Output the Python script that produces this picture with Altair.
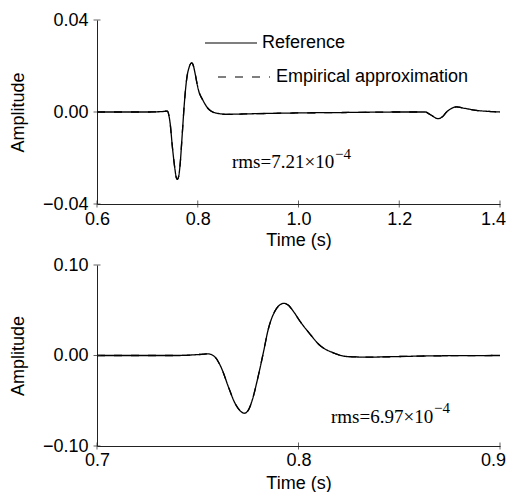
import altair as alt
import pandas as pd

# ---- data ----
series_names = ["Reference", "Empirical approximation"]

top_t = [0.60, 0.70, 0.730, 0.7395, 0.745, 0.750, 0.7548, 0.757, 0.7594, 0.762,
         0.7647, 0.769, 0.773, 0.778, 0.783, 0.788, 0.7915, 0.7944, 0.801, 0.811,
         0.821, 0.834, 0.857, 0.90, 1.00, 1.10, 1.20, 1.251, 1.262, 1.277,
         1.285, 1.294, 1.304, 1.3137, 1.33, 1.353, 1.375, 1.40]
top_ref = [0.0, 0.0, 0.0002, 0.0004, -0.0046, -0.016, -0.025, -0.0282, -0.0293, -0.0281,
           -0.0235, -0.0104, 0.0026, 0.0143, 0.0195, 0.0214, 0.0200, 0.0171, 0.0099, 0.0048,
           0.0014, -0.0003, -0.0010, -0.0008, -0.0004, -0.0002, 0.0, 0.0, -0.0012, -0.0029,
           -0.0022, 0.0, 0.0016, 0.0022, 0.0016, 0.0007, 0.0003, 0.0]
top_emp = [0.0, 0.0, 0.0002, 0.0004, -0.0046, -0.016, -0.025, -0.0282, -0.0293, -0.0281,
           -0.0235, -0.0104, 0.0026, 0.0143, 0.0195, 0.0214, 0.0200, 0.0171, 0.0099, 0.0048,
           0.0014, -0.0003, -0.0010, -0.0008, -0.0004, -0.0002, 0.0, 0.0, -0.0012, -0.0029,
           -0.0022, 0.0, 0.0016, 0.0022, 0.0016, 0.0007, 0.0003, 0.0]

bot_t = [0.70, 0.74, 0.750, 0.7553, 0.7586, 0.7619, 0.7652, 0.7685, 0.771, 0.7731,
         0.7752, 0.7768, 0.7801, 0.7826, 0.785, 0.7883, 0.7905, 0.7928, 0.795, 0.7974,
         0.8007, 0.8057, 0.8107, 0.8173, 0.8239, 0.8338, 0.8504, 0.867, 0.90]
bot_ref = [0.0, 0.0, 0.0010, 0.0018, -0.0018, -0.0146, -0.0346, -0.0528, -0.0610, -0.0638,
           -0.0600, -0.0510, -0.0219, 0.0036, 0.0290, 0.0490, 0.0555, 0.0576, 0.0555, 0.0490,
           0.0380, 0.0237, 0.0110, 0.0030, -0.0011, -0.0018, -0.0011, -0.0004, 0.0]
bot_emp = [0.0, 0.0, 0.0010, 0.0018, -0.0018, -0.0146, -0.0346, -0.0528, -0.0610, -0.0638,
           -0.0600, -0.0510, -0.0219, 0.0036, 0.0290, 0.0490, 0.0555, 0.0576, 0.0555, 0.0490,
           0.0380, 0.0237, 0.0110, 0.0030, -0.0011, -0.0018, -0.0011, -0.0004, 0.0]

top_xticks = [0.6, 0.8, 1.0, 1.2, 1.4]
top_yticks = [-0.04, 0.0, 0.04]
bot_xticks = [0.7, 0.8, 0.9]
bot_yticks = [-0.10, 0.0, 0.10]

top_rms = ["rms=7.21\u00d710", "\u22124"]
bot_rms = ["rms=6.97\u00d710", "\u22124"]

SANS = "Liberation Sans"
SERIF = "Liberation Serif"
INK = "#222"


def frame(t, ref, emp):
    rows = []
    for name, vals in zip(series_names, [ref, emp]):
        for i, (a, b) in enumerate(zip(t, vals)):
            rows.append({"t": a, "amp": b, "series": name, "order": i})
    return pd.DataFrame(rows)


def panel(df, xdom, ydom, xticks, yticks, rms, rms_pos, h, legend, lab_pad, title_pad):
    xs = alt.Scale(domain=xdom, nice=False, zero=False)
    ys = alt.Scale(domain=ydom, nice=False, zero=False)
    last = xticks[-1]
    xax = alt.Axis(values=xticks, format=".1f", title="Time (s)", ticks=False, grid=False,
                   labelPadding=lab_pad, titlePadding=title_pad, domainColor=INK,
                   labelFlush=False,
                   labelOffset={"condition": {"test": f"datum.value >= {last - 1e-6}",
                                              "value": -7}, "value": 0})
    yax = alt.Axis(values=yticks, format=".2f", title="Amplitude", ticks=False, grid=False,
                   labelPadding=9, titlePadding=15, domainColor=INK, labelFlush=False)
    dash = alt.StrokeDash("series:N",
                          scale=alt.Scale(domain=series_names, range=[[1, 0], [8, 9]]),
                          legend=None)
    lines = alt.Chart(df).mark_line(color="black", strokeWidth=1.3, interpolate="monotone").encode(
        x=alt.X("t:Q", scale=xs, axis=xax), y=alt.Y("amp:Q", scale=ys, axis=yax),
        strokeDash=dash, order="order:Q", detail="series:N")

    # inward tick marks at the axis values
    xt = alt.Chart(pd.DataFrame({"t": xticks})).mark_tick(
        color=INK, thickness=1, size=7).encode(
        x=alt.X("t:Q", scale=xs, axis=xax), y=alt.value(h))
    yt = alt.Chart(pd.DataFrame({"amp": yticks})).mark_tick(
        color=INK, thickness=1, size=7).encode(
        y=alt.Y("amp:Q", scale=ys, axis=yax), x=alt.value(0))

    (mx, my), (sx, sy) = rms_pos
    main_txt = alt.Chart(pd.DataFrame({"s": [rms[0]]})).mark_text(
        font=SERIF, fontSize=19, align="left", baseline="alphabetic", color="black").encode(
        x=alt.value(mx), y=alt.value(my), text="s:N")
    sup_txt = alt.Chart(pd.DataFrame({"s": [rms[1]]})).mark_text(
        font=SERIF, fontSize=15, align="left", baseline="alphabetic", color="black").encode(
        x=alt.value(sx), y=alt.value(sy), text="s:N")

    layers = [lines, xt, yt, main_txt, sup_txt]

    if legend:
        leg_df = pd.DataFrame({"series": series_names,
                               "x1": [108, 121], "x2": [160, 173], "y": [23, 57],
                               "tx": [165, 179]})
        leg_lines = alt.Chart(leg_df).mark_rule(color="black", strokeWidth=1.1).encode(
            x=alt.X("x1:Q", scale=None), x2="x2:Q", y=alt.Y("y:Q", scale=None),
            strokeDash=dash)
        leg_text = alt.Chart(leg_df).mark_text(
            font=SANS, fontSize=18, align="left", baseline="middle", color="black").encode(
            x=alt.X("tx:Q", scale=None), y=alt.Y("y:Q", scale=None), text="series:N")
        layers += [leg_lines, leg_text]

    return alt.layer(*layers).properties(width=403, height=h)


top = panel(frame(top_t, top_ref, top_emp), [0.6, 1.4], [-0.04, 0.04],
            top_xticks, top_yticks, top_rms, ((135, 148), (238, 139)), 184, True, 6, 3)
bot = panel(frame(bot_t, bot_ref, bot_emp), [0.7, 0.9], [-0.10, 0.10],
            bot_xticks, bot_yticks, bot_rms, ((234, 158), (337, 148)), 181, False, 5, 5)

chart = alt.vconcat(top, bot, spacing=7).properties(
    padding={"left": 1, "top": 3, "right": 0, "bottom": 0}
).configure_view(stroke=None).configure_axis(
    labelFont=SANS, labelFontSize=18, labelColor="black",
    titleFont=SANS, titleFontSize=18, titleColor="black", titleFontWeight="normal",
    domainWidth=1
)

chart.save("out.html", embed_options={"renderer": "svg", "actions": False})
